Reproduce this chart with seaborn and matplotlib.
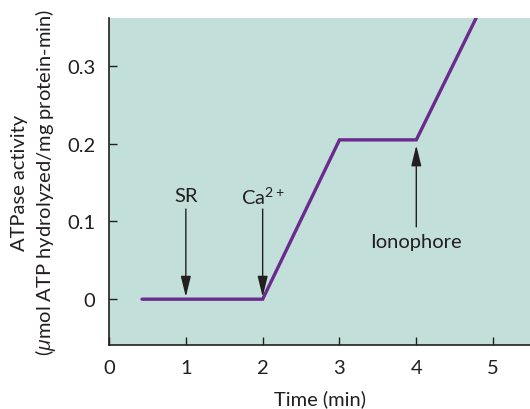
import numpy as np
import pandas as pd
import matplotlib.pyplot as plt
import seaborn as sns

# =========================
# Data
# =========================
time_min = [0.43, 2.0, 3.0, 4.0, 4.78]
atpase = [0.0, 0.0, 0.205, 0.205, 0.362]

arrow_labels = ["SR", "Ca$^{2+}$"]
arrow_x = [1.0, 2.0]
arrow_top = 0.116
arrow_tip = 0.003

iono_x = 4.0
iono_start = 0.093
iono_tip = 0.198

x_ticks = [0, 1, 2, 3, 4, 5]
y_ticks = [0, 0.1, 0.2, 0.3]
y_ticklabels = ["0", "0.1", "0.2", "0.3"]

# =========================
# Style
# =========================
sns.set_style("ticks")
plt.rcParams["font.family"] = ["Lato", "DejaVu Sans"]
plt.rcParams["mathtext.fontset"] = "custom"
plt.rcParams["mathtext.rm"] = "Lato"
plt.rcParams["mathtext.it"] = "Open Sans:italic"

TXT = "#231f20"
BG = "#c3dfd9"
LINE = "#6a2a8e"
FS = 14.5

fig = plt.figure(figsize=(5.3, 4.1), dpi=100)
ax = fig.add_axes([0.2057, 0.156, 0.7943, 0.798])
ax.set_facecolor(BG)

df = pd.DataFrame({"time": time_min, "activity": atpase})
sns.lineplot(data=df, x="time", y="activity", ax=ax, color=LINE,
             linewidth=2.4, solid_joinstyle="miter")

# ---- annotations ----
arrow_kw = dict(arrowstyle="-|>,head_length=0.9,head_width=0.22", color=TXT,
                lw=1.0, mutation_scale=14, shrinkA=0, shrinkB=0)
for lab, xv in zip(arrow_labels, arrow_x):
    ax.annotate("", xy=(xv, arrow_tip), xytext=(xv, arrow_top), arrowprops=arrow_kw)
    ax.text(xv, 0.133, lab, ha="center", va="center", fontsize=FS, color=TXT)

ax.annotate("", xy=(iono_x, iono_tip), xytext=(iono_x, iono_start), arrowprops=arrow_kw)
ax.text(iono_x, 0.074, "Ionophore", ha="center", va="center", fontsize=FS, color=TXT)

# ---- axes ----
ax.set_xlim(0, 5.48)
ax.set_ylim(-0.059, 0.362)
ax.set_xticks(x_ticks)
ax.set_yticks(y_ticks)
ax.set_yticklabels(y_ticklabels)
ax.tick_params(direction="in", length=6, width=1.0, colors=TXT,
               labelsize=FS, pad=10)
for s in ["top", "right"]:
    ax.spines[s].set_visible(False)
for s in ["left", "bottom"]:
    ax.spines[s].set_color(TXT)
    ax.spines[s].set_linewidth(1.2)

ax.set_xlabel("Time (min)", fontsize=FS, color=TXT)
ax.xaxis.set_label_coords(0.5, -0.135)
ax.set_ylabel("ATPase activity\n($\\mu$mol ATP hydrolyzed/mg protein-min)",
              fontsize=FS, color=TXT, linespacing=1.25)
ax.yaxis.set_label_coords(-0.122, 0.5)

fig.savefig("out.png", dpi=100)
